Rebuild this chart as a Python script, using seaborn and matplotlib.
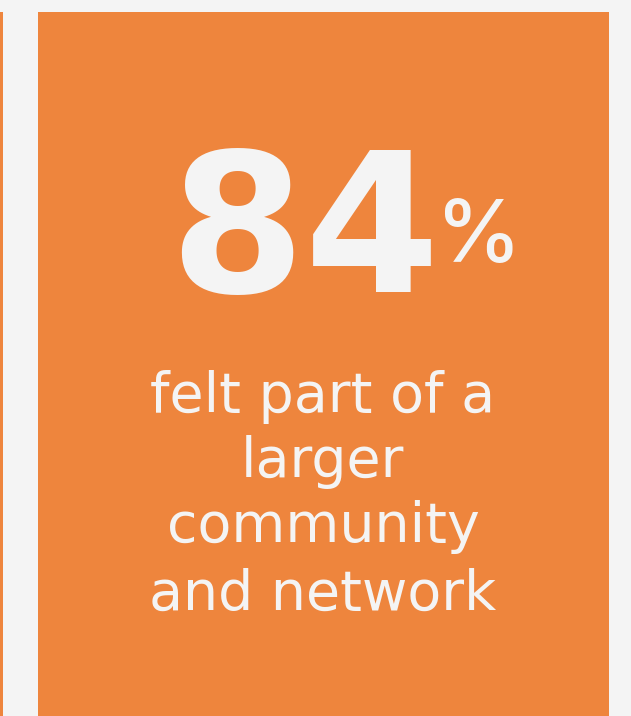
import matplotlib
matplotlib.use("Agg")
import matplotlib.pyplot as plt
import seaborn as sns
from matplotlib.patches import Rectangle

# Data for the tile
stat_value = "84"
stat_unit = "%"
caption_lines = ["felt part of a", "larger", "community", "and network"]

orange = "#EE853D"
light = "#F4F4F4"

sns.set_theme(style="white")
plt.rcParams['font.family'] = ['DejaVu Sans']

fig = plt.figure(figsize=(6.31, 7.16), dpi=100, facecolor=light)
ax = fig.add_axes([0, 0, 1, 1])
ax.set_xlim(0, 631)
ax.set_ylim(716, 0)
ax.axis('off')

# orange tiles
ax.add_patch(Rectangle((37.5, 12), 571.5, 710, color=orange, lw=0))
ax.add_patch(Rectangle((-10, 12), 12.5, 710, color=orange, lw=0))

# big number
ax.text(440, 292, stat_value, fontsize=140, fontweight='bold', color=light,
        ha='right', va='baseline')
ax.text(436, 262, stat_unit, fontsize=62, fontweight='medium', family='Inter',
        color=light, ha='left', va='baseline')

# caption
baselines = [412, 477, 542, 610]
for line, y in zip(caption_lines, baselines):
    ax.text(323, y, line, fontsize=40, color=light, ha='center', va='baseline')

fig.savefig("out.png", dpi=100, facecolor=light)
